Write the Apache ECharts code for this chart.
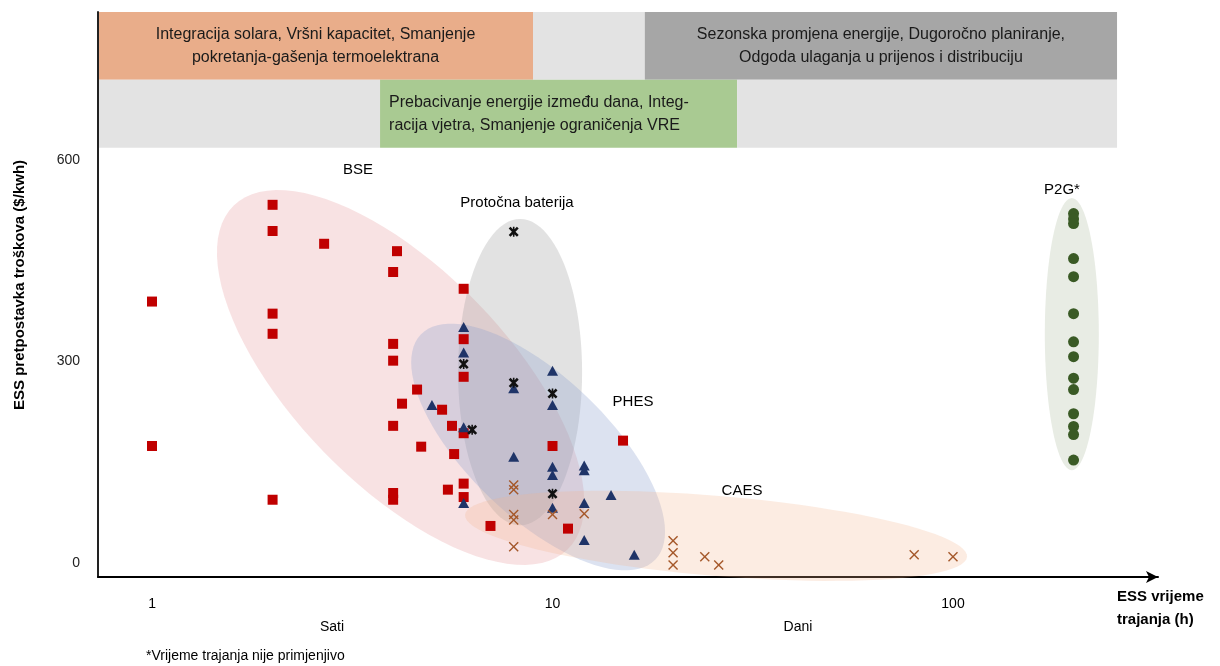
<!DOCTYPE html>
<html>
<head>
<meta charset="utf-8">
<script src="https://cdn.jsdelivr.net/npm/echarts@6/dist/echarts.min.js"></script>
<style>
html,body{margin:0;padding:0;background:#fff;}
#chart{width:1220px;height:666px;}
</style>
</head>
<body>
<div id="chart"></div>
<script>
// ---------------- DATA ----------------
const xTickLabels = [1, 10, 100];
const yTickLabels = [0, 300, 600];

const bseX = [1, 1, 2, 2, 2, 2, 2, 2.69, 4.09, 4, 4, 4, 4, 4, 4, 4.59, 4.21, 5.30, 5.61, 4.70, 5.68, 5.48, 6, 6, 6, 6, 6, 6, 7, 10, 10.93, 15];
const bseY = [389, 174, 533, 494, 371, 341, 94, 475, 464, 433, 326, 301, 204, 104, 94, 258, 237, 228, 204, 173, 162, 109, 408, 333, 277, 193, 118, 98, 55, 174, 51, 182];

const phesX = [6, 6, 6, 6, 5, 8, 8, 10, 10, 10, 10, 10, 12, 12, 12, 12, 14, 16];
const phesY = [351, 313, 202, 89, 235, 260, 158, 286, 235, 143, 131, 82, 145, 138, 89, 34, 101, 12];

const flowX = [8, 6, 6.3, 8, 10, 10];
const flowY = [493, 296, 198, 268, 252, 103];

const caesX = [8, 8, 8, 8, 8, 10, 12, 20, 20, 20, 24, 26, 80, 100];
const caesY = [116, 109, 72, 64, 24, 72, 73, 33, 15, -3, 9, -3, 12, 9];

const p2gX = [200, 200, 200, 200, 200, 200, 200, 200, 200, 200, 200, 200, 200, 200];
const p2gY = [520, 512, 505, 453, 426, 371, 329, 307, 275, 258, 222, 203, 191, 153];

// cluster ellipses: major-axis end points (duration, cost)
const ellipseNames = ['BSE', 'Protočna baterija', 'PHES', 'CAES', 'P2G*'];
const ellipseStart = [[1.6, 532], [8.3, 512], [4.69, 340], [6.05, 71.5], [198, 543]];
const ellipseEnd = [[10.9, 20], [8.3, 56], [18.07, 5], [108.4, 9], [198, 138]];

// application bands (duration ranges)
const bandRow1Labels = ['Integracija solara, Vršni kapacitet, Smanjenje\npokretanja-gašenja termoelektrana', '', 'Sezonska promjena energije, Dugoročno planiranje,\nOdgoda ulaganja u prijenos i distribuciju'];
const bandRow1From = [0.733, 8.94, 17.0];
const bandRow1To = [8.94, 17.0, 256.8];
const bandRow2Labels = ['', 'Prebacivanje energije između dana, Integ-\nracija vjetra, Smanjenje ograničenja VRE', ''];
const bandRow2From = [0.733, 3.71, 28.9];
const bandRow2To = [3.71, 28.9, 256.8];

// ---------------- STYLE / LAYOUT ----------------
const X_MIN = 0.733, X_MAX = 325, Y_MIN = -21, Y_MAX = 820;
const ROW1 = [719, 820], ROW2 = [618, 719];
const bandRow1Colors = ['#e9ad8a', '#e3e3e3', '#a6a6a6'];
const bandRow2Colors = ['#e3e3e3', '#a9ca92', '#e3e3e3'];
const ellipseHalfWidth = [107, 62, 70, 40, 27];
const ellipseColors = ['rgba(230,150,155,0.28)', 'rgba(150,150,150,0.28)', 'rgba(140,160,205,0.30)', 'rgba(242,180,140,0.25)', 'rgba(195,205,185,0.38)'];
const FONT = '"Liberation Sans", Arial, sans-serif';

const zip = (a, b) => a.map((v, i) => [v, b[i]]);

const bandData = [];
bandRow1Labels.forEach((lab, i) => {
  bandData.push([
    { xAxis: bandRow1From[i], yAxis: ROW1[0], itemStyle: { color: bandRow1Colors[i] },
      label: { show: !!lab, formatter: lab, position: 'inside', color: '#1a1a1a', fontSize: 16, lineHeight: 23, fontFamily: FONT } },
    { xAxis: bandRow1To[i], yAxis: ROW1[1] }
  ]);
});
bandRow2Labels.forEach((lab, i) => {
  bandData.push([
    { xAxis: bandRow2From[i], yAxis: ROW2[0], itemStyle: { color: bandRow2Colors[i] },
      label: { show: !!lab, formatter: lab, position: 'insideLeft', distance: 9, align: 'left', color: '#1a1a1a', fontSize: 16, lineHeight: 23, fontFamily: FONT } },
    { xAxis: bandRow2To[i], yAxis: ROW2[1] }
  ]);
});

const xPath = 'path://M0,1 L1,0 L5,4 L9,0 L10,1 L6,5 L10,9 L9,10 L5,6 L1,10 L0,9 L4,5 Z';
const starPath = 'path://M0,1.8 L1.8,0 L5,3.2 L8.2,0 L10,1.8 L6.8,5 L10,8.2 L8.2,10 L5,6.8 L1.8,10 L0,8.2 L3.2,5 Z M4.2,0 L5.8,0 L5.8,10 L4.2,10 Z';

const chart = echarts.init(document.getElementById('chart'), null, { renderer: 'canvas' });

const option = {
  animation: false,
  backgroundColor: '#fff',
  grid: { left: 98, right: 62, top: 12, bottom: 89 },
  xAxis: {
    type: 'log', logBase: 10, min: X_MIN, max: X_MAX,
    axisLine: { show: true, onZero: false, symbol: ['none', 'arrow'], symbolSize: [9, 12], lineStyle: { color: '#000', width: 2 } },
    axisTick: { show: false },
    splitLine: { show: false },
    axisLabel: {
      margin: 20, color: '#000', fontSize: 14, fontFamily: FONT,
      showMinLabel: false, showMaxLabel: false,
      formatter: function (v) {
        const t = xTickLabels.find(k => Math.abs(v - k) / k < 1e-6);
        return t ? String(t) : '';
      }
    }
  },
  yAxis: {
    type: 'value', min: Y_MIN, max: Y_MAX,
    axisLine: { show: true, onZero: false, lineStyle: { color: '#222', width: 2 } },
    axisTick: { show: false },
    splitLine: { show: false },
    axisLabel: { customValues: yTickLabels, margin: 18, color: '#222', fontSize: 14, fontFamily: FONT }
  },
  graphic: [
    { type: 'text', x: 20, y: 285, rotation: Math.PI / 2, style: { text: 'ESS pretpostavka troškova ($/kwh)', fill: '#000', font: 'bold 15px ' + FONT, align: 'center', verticalAlign: 'middle' } },
    { type: 'text', x: 1117, y: 585, style: { text: 'ESS vrijeme\ntrajanja (h)', fill: '#000', font: 'bold 15px ' + FONT, lineHeight: 23 } },
    { type: 'text', x: 332, y: 627, style: { text: 'Sati', fill: '#000', font: '14px ' + FONT, align: 'center', verticalAlign: 'middle' } },
    { type: 'text', x: 798, y: 627, style: { text: 'Dani', fill: '#000', font: '14px ' + FONT, align: 'center', verticalAlign: 'middle' } },
    { type: 'text', x: 146, y: 656, style: { text: '*Vrijeme trajanja nije primjenjivo', fill: '#000', font: '14px ' + FONT, verticalAlign: 'middle' } },
    { type: 'text', x: 358, y: 170, style: { text: 'BSE', fill: '#000', font: '15px ' + FONT, align: 'center', verticalAlign: 'middle' }, z: 50 },
    { type: 'text', x: 517, y: 203, style: { text: 'Protočna baterija', fill: '#000', font: '15px ' + FONT, align: 'center', verticalAlign: 'middle' }, z: 50 },
    { type: 'text', x: 633, y: 402, style: { text: 'PHES', fill: '#000', font: '15px ' + FONT, align: 'center', verticalAlign: 'middle' }, z: 50 },
    { type: 'text', x: 742, y: 491, style: { text: 'CAES', fill: '#000', font: '15px ' + FONT, align: 'center', verticalAlign: 'middle' }, z: 50 },
    { type: 'text', x: 1062, y: 190, style: { text: 'P2G*', fill: '#000', font: '15px ' + FONT, align: 'center', verticalAlign: 'middle' }, z: 50 }
  ],
  series: [
    {
      type: 'custom', name: 'clusters', z: 1, silent: true,
      data: ellipseStart.map((s, i) => [s[0], s[1], ellipseEnd[i][0], ellipseEnd[i][1]]),
      encode: { x: [0, 2], y: [1, 3] },
      renderItem: function (params, api) {
        const i = params.dataIndex;
        const p1 = api.coord([api.value(0), api.value(1)]);
        const p2 = api.coord([api.value(2), api.value(3)]);
        const cx = (p1[0] + p2[0]) / 2, cy = (p1[1] + p2[1]) / 2;
        const dx = p2[0] - p1[0], dy = p2[1] - p1[1];
        const len = Math.sqrt(dx * dx + dy * dy);
        const A = len / 2, B = ellipseHalfWidth[i];
        const ux = dx / len, uy = dy / len, vx = -uy, vy = ux;
        const pts = [];
        for (let k = 0; k < 96; k++) {
          const t = k / 96 * Math.PI * 2;
          const c = Math.cos(t) * A, s = Math.sin(t) * B;
          pts.push([cx + ux * c + vx * s, cy + uy * c + vy * s]);
        }
        return { type: 'polygon', shape: { points: pts }, style: { fill: ellipseColors[i] } };
      }
    },
    {
      type: 'scatter', name: 'BSE', z: 5, symbol: 'rect', symbolSize: 10,
      itemStyle: { color: '#c00000', opacity: 1 },
      data: zip(bseX, bseY),
      markArea: { silent: true, z: 0, data: bandData }
    },
    {
      type: 'scatter', name: 'PHES', z: 6, symbol: 'triangle', symbolSize: [11, 10],
      itemStyle: { color: '#1f3468', opacity: 1 },
      data: zip(phesX, phesY)
    },
    {
      type: 'scatter', name: 'Protočna baterija', z: 7, symbol: starPath, symbolSize: 10,
      itemStyle: { color: '#111', opacity: 1 },
      data: zip(flowX, flowY)
    },
    {
      type: 'scatter', name: 'CAES', z: 7, symbol: xPath, symbolSize: 10,
      itemStyle: { color: '#a5582a', opacity: 1 },
      data: zip(caesX, caesY)
    },
    {
      type: 'scatter', name: 'P2G', z: 7, symbol: 'circle', symbolSize: 11,
      itemStyle: { color: '#3a5a25', opacity: 1 },
      data: zip(p2gX, p2gY)
    }
  ]
};
chart.setOption(option);
</script>
</body>
</html>
